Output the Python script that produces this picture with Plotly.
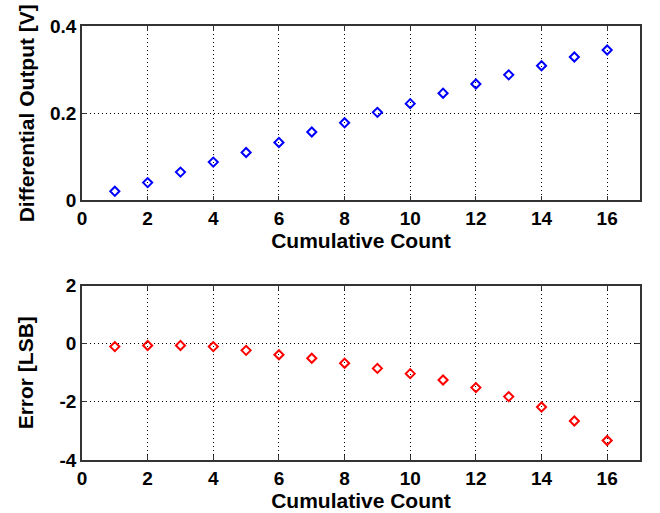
import plotly.graph_objects as go
from plotly.subplots import make_subplots

count = list(range(1, 17))
diff_output = [0.021, 0.041, 0.065, 0.088, 0.110, 0.133, 0.157, 0.178,
               0.202, 0.222, 0.246, 0.267, 0.288, 0.309, 0.329, 0.345]
error_lsb = [-0.10, -0.06, -0.06, -0.10, -0.23, -0.38, -0.50, -0.67,
             -0.85, -1.03, -1.25, -1.51, -1.82, -2.18, -2.66, -3.33]

x_ticks = [0, 2, 4, 6, 8, 10, 12, 14, 16]
y1_ticks = [0, 0.2, 0.4]
y1_labels = ["0", "0.2", "0.4"]
y2_ticks = [-4, -2, 0, 2]

fig = make_subplots(rows=2, cols=1, vertical_spacing=0.196)

fig.add_trace(go.Scatter(x=count, y=diff_output, mode="markers",
                         marker=dict(symbol="diamond-open", size=7, color="blue",
                                     line=dict(width=2, color="blue"))),
              row=1, col=1)
fig.add_trace(go.Scatter(x=count, y=error_lsb, mode="markers",
                         marker=dict(symbol="diamond-open", size=7, color="red",
                                     line=dict(width=2, color="red"))),
              row=2, col=1)

fam = "Liberation Sans, Arial, sans-serif"
font = dict(family=fam, size=21, color="black")
axis_common = dict(showline=True, linecolor="#333333", linewidth=1.5, mirror="ticks",
                   ticks="inside", ticklen=5, tickcolor="#333333", automargin=False,
                   showgrid=True, gridcolor="black", griddash="1px,3px", gridwidth=1,
                   zeroline=False, tickfont=dict(family=fam, size=19, color="black"))

fig.update_xaxes(range=[0, 17], tickvals=x_ticks,
                 ticktext=["<b>%d</b>" % t for t in x_ticks], **axis_common)
fig.update_xaxes(title=dict(text="<b>Cumulative Count</b>", font=font, standoff=3), row=1, col=1)
fig.update_xaxes(title=dict(text="<b>Cumulative Count</b>", font=font, standoff=3), row=2, col=1)
fig.update_yaxes(**axis_common)
fig.update_yaxes(range=[0, 0.4], tickvals=y1_ticks, ticktext=["<b>%s</b>" % t for t in y1_labels],
                 title=dict(text="<b>Differential Output [V]</b>", font=font, standoff=10), row=1, col=1)
fig.update_yaxes(range=[-4, 2], tickvals=y2_ticks, ticktext=["<b>%d</b>" % t for t in y2_ticks],
                 title=dict(text="<b>Error [LSB]</b>", font=font, standoff=20), row=2, col=1)

fig.update_layout(width=660, height=513, margin=dict(l=82, r=20, t=26, b=53),
                  paper_bgcolor="white", plot_bgcolor="white", showlegend=False,
                  font=font)

fig.write_html("out.html")
